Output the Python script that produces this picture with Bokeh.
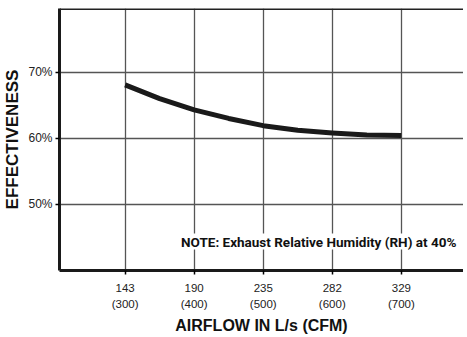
from bokeh.plotting import figure
from bokeh.models import FixedTicker, Span, Label, Range1d
from bokeh.embed import file_html
from bokeh.resources import INLINE

# ---- data ----
airflow_cfm = [300, 350, 400, 450, 500, 550, 600, 650, 700]
effectiveness = [68.1, 66.0, 64.3, 63.0, 61.9, 61.2, 60.8, 60.5, 60.4]
x_ticks = [300, 400, 500, 600, 700]
x_tick_labels = ["143\n(300)", "190\n(400)", "235\n(500)", "282\n(600)", "329\n(700)"]
y_ticks = [50, 60, 70]
y_tick_labels = ["50%", "60%", "70%"]
note_text = "NOTE: Exhaust Relative Humidity (RH) at 40%"
x_title = "AIRFLOW IN L/s (CFM)"
y_title = "EFFECTIVENESS"

x_lo, x_hi = 205, 790
y_lo, y_hi = 39.9, 79.7

p = figure(frame_width=404, frame_height=262, output_backend="svg", toolbar_location=None,
           x_range=Range1d(x_lo, x_hi), y_range=Range1d(y_lo, y_hi),
           min_border_left=0, min_border_right=0, min_border_top=8, min_border_bottom=0)
p.title.visible = False
p.outline_line_color = None
p.background_fill_color = "white"

# grid
p.xgrid.ticker = FixedTicker(ticks=x_ticks)
p.ygrid.ticker = FixedTicker(ticks=y_ticks)
for g in (p.xgrid, p.ygrid):
    g.grid_line_color = "#555555"
    g.grid_line_width = 1.3
    g.grid_line_alpha = 1.0

# x axis
p.xaxis.ticker = FixedTicker(ticks=x_ticks)
p.xaxis.major_label_overrides = {t: l for t, l in zip(x_ticks, x_tick_labels)}
p.xaxis.axis_label = x_title
p.xaxis.axis_line_width = 3
p.xaxis.axis_line_color = "#1a1a1a"
p.xaxis.major_tick_out = 4
p.xaxis.major_tick_in = 0
p.xaxis.major_tick_line_width = 1.5
p.xaxis.minor_tick_line_color = None
p.xaxis.major_label_text_font = "Liberation Sans"
p.xaxis.major_label_text_font_size = "11.5px"
p.xaxis.major_label_text_color = "#222222"
p.xaxis.major_label_text_line_height = 1.35
p.xaxis.major_label_standoff = 7
p.xaxis.axis_label_text_font = "Liberation Sans"
p.xaxis.axis_label_text_font_style = "bold"
p.xaxis.axis_label_text_font_size = "16px"
p.xaxis.axis_label_text_color = "#111111"
p.xaxis.axis_label_standoff = 4

# y axis
p.yaxis.ticker = FixedTicker(ticks=y_ticks)
p.yaxis.major_label_overrides = {t: l for t, l in zip(y_ticks, y_tick_labels)}
p.yaxis.axis_label = y_title
p.yaxis.axis_line_width = 3
p.yaxis.axis_line_color = "#1a1a1a"
p.yaxis.major_tick_out = 4
p.yaxis.major_tick_in = 0
p.yaxis.major_tick_line_width = 1.5
p.yaxis.minor_tick_line_color = None
p.yaxis.major_label_text_font = "Liberation Sans"
p.yaxis.major_label_text_font_size = "12px"
p.yaxis.major_label_text_color = "#222222"
p.yaxis.major_label_standoff = 3
p.yaxis.axis_label_text_font = "Liberation Sans"
p.yaxis.axis_label_text_font_style = "bold"
p.yaxis.axis_label_text_font_size = "17px"
p.yaxis.axis_label_text_color = "#111111"
p.yaxis.axis_label_standoff = 3

# top border
p.add_layout(Span(location=y_hi, dimension="width", line_color="#222222", line_width=3))

# curve
p.line(airflow_cfm, effectiveness, line_color="#1a1a1a", line_width=5, line_join="round")

# note
p.add_layout(Label(x=381, y=44.3, text=note_text, text_font="Roboto",
                   text_font_style="bold", text_font_size="13.5px", text_color="#111111",
                   text_baseline="middle", text_align="left",
                   background_fill_color="white"))

open("out.html", "w").write(file_html(p, INLINE))
